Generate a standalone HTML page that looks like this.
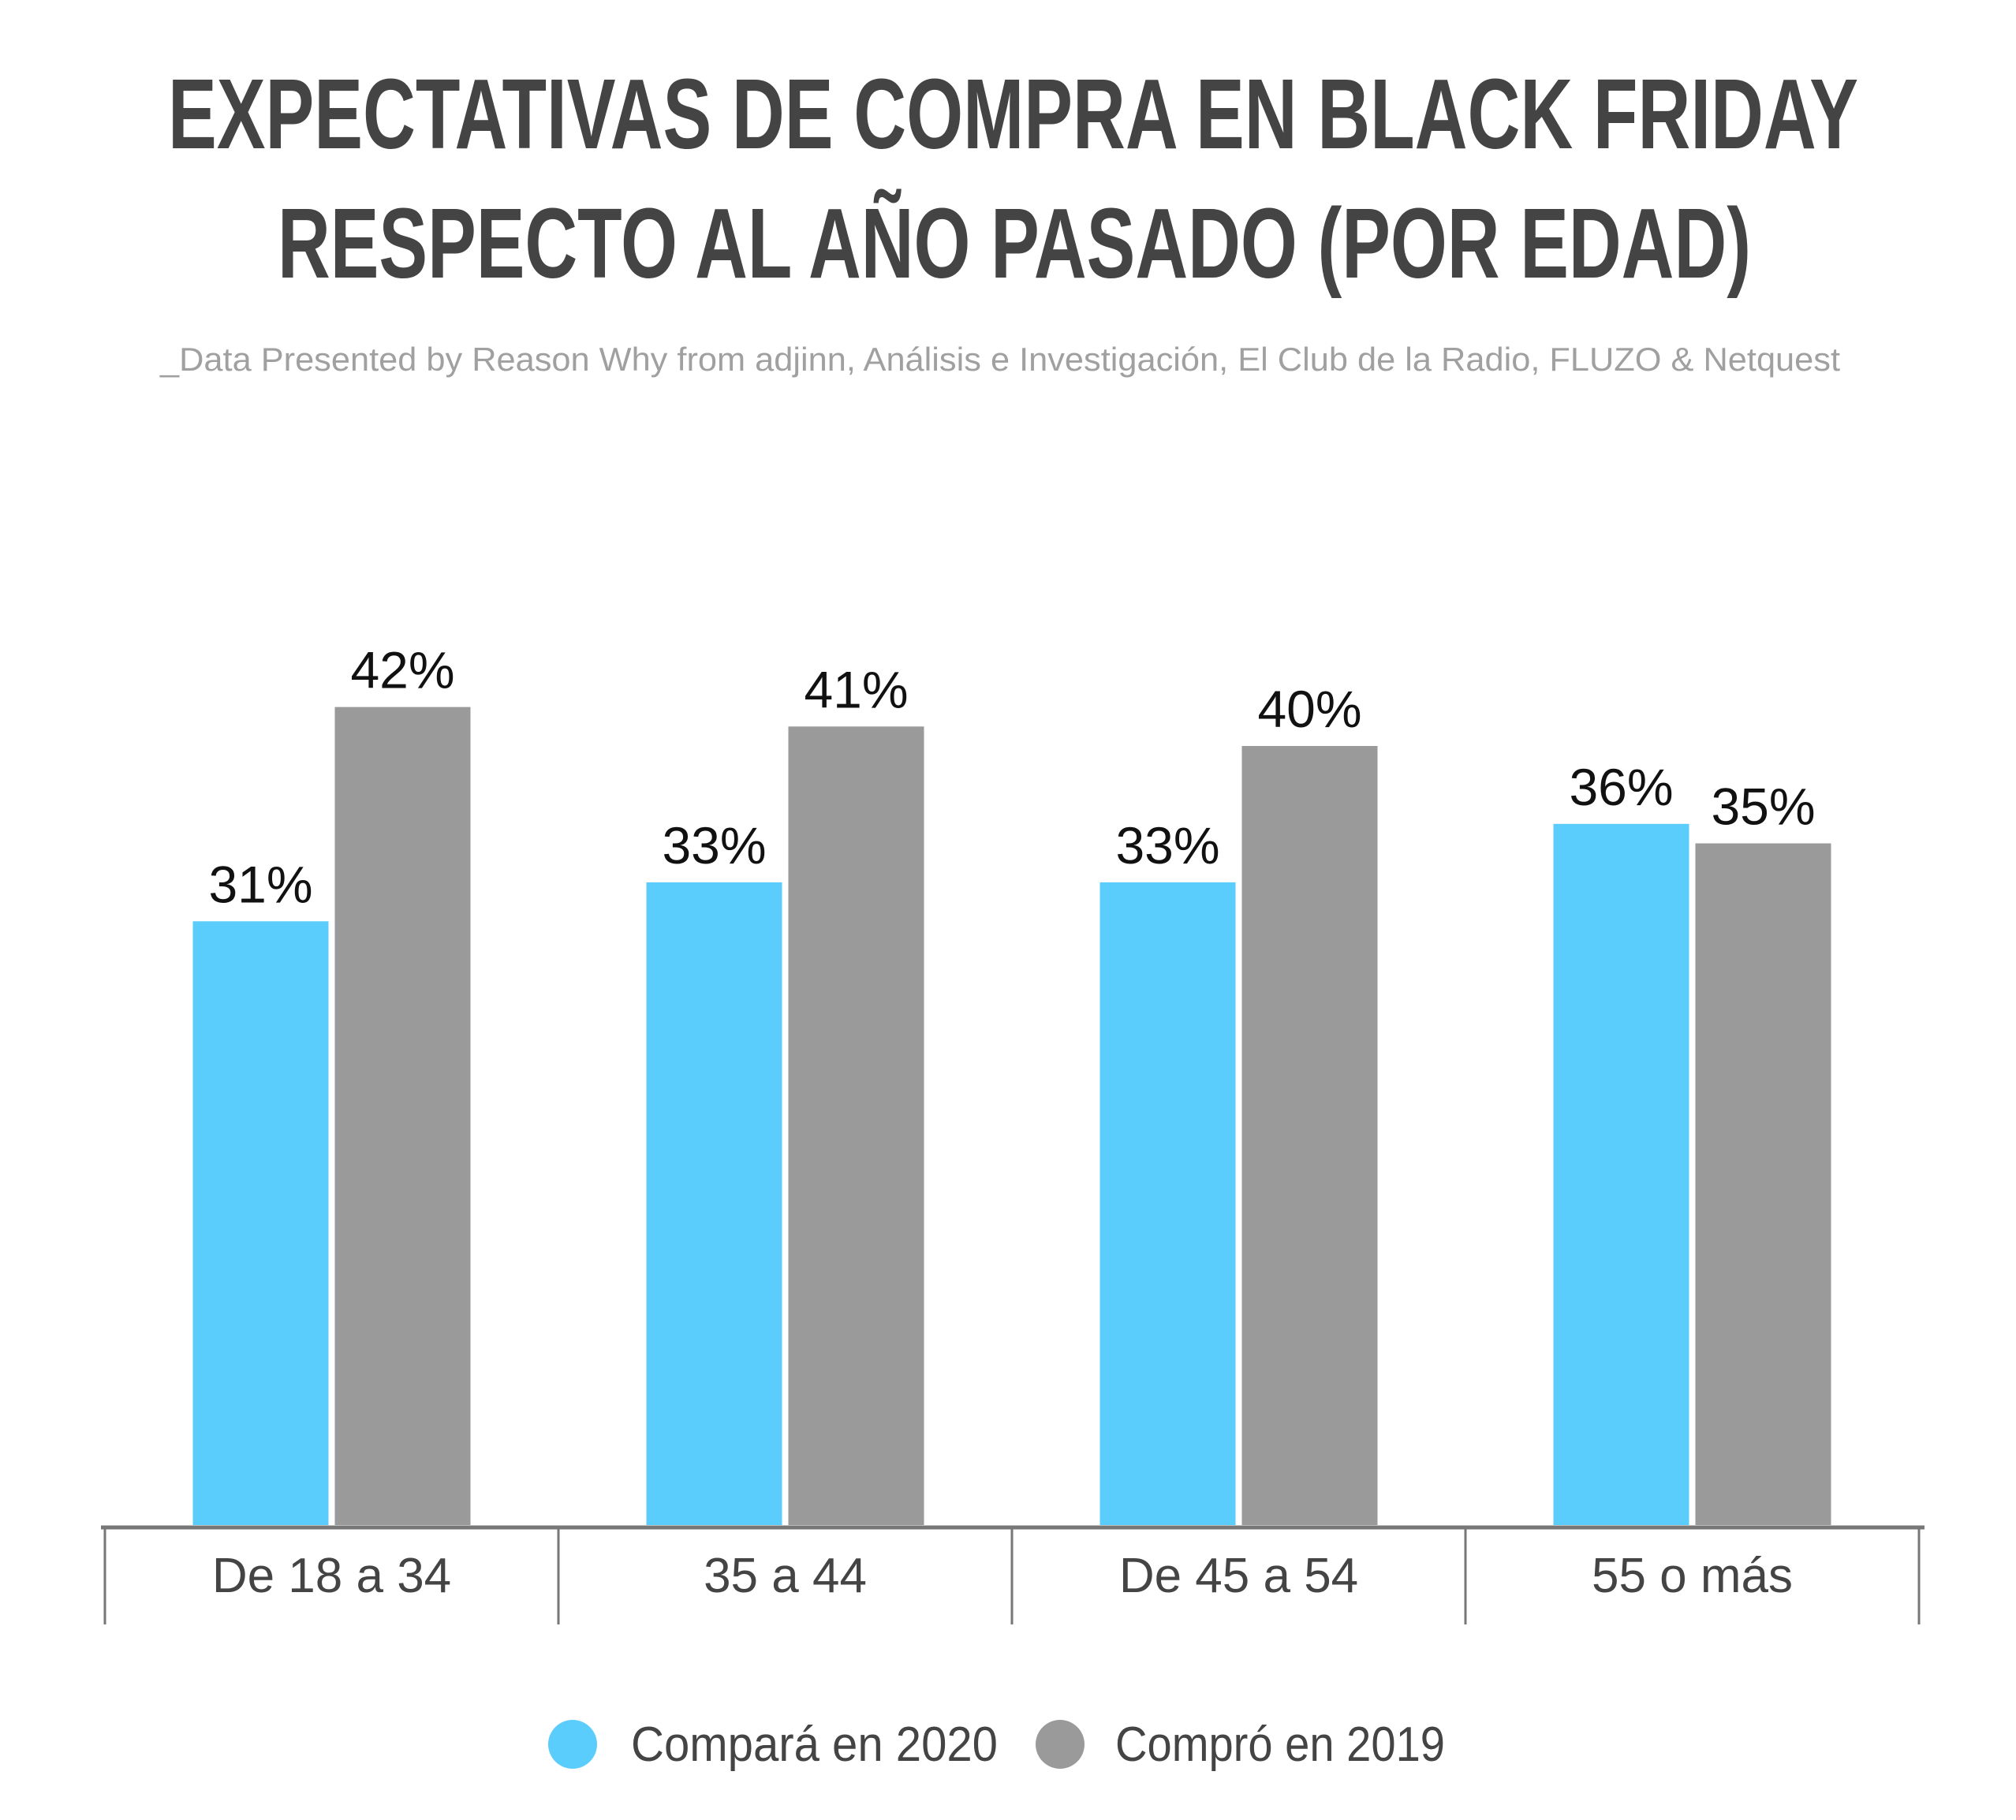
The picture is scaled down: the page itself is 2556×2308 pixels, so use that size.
<!DOCTYPE html>
<html><head><meta charset="utf-8"><style>
html,body{margin:0;padding:0;background:#fff}
svg{display:block}
</style></head><body>
<svg width="2556" height="2308" viewBox="0 0 2556 2308" xmlns="http://www.w3.org/2000/svg">
<rect width="2556" height="2308" fill="#fff"/>
<text x="213" y="188" textLength="2143" lengthAdjust="spacingAndGlyphs" font-family="Liberation Sans Narrow, Liberation Sans, sans-serif" font-weight="bold" font-size="126" fill="#444">EXPECTATIVAS DE COMPRA EN BLACK FRIDAY</text>
<text x="352" y="352" textLength="1868" lengthAdjust="spacingAndGlyphs" font-family="Liberation Sans Narrow, Liberation Sans, sans-serif" font-weight="bold" font-size="126" fill="#444">RESPECTO AL AÑO PASADO (POR EDAD)</text>
<text x="203" y="470" textLength="2130" lengthAdjust="spacingAndGlyphs" font-family="Liberation Sans, sans-serif" font-size="42" fill="#a0a0a0">_Data Presented by Reason Why from adjinn, Análisis e Investigación, El Club de la Radio, FLUZO &amp; Netquest</text>
<g id="plot"></g>
<g>
<circle cx="726" cy="2212" r="31" fill="#5bcdfc"/>
<text x="800" y="2233" font-family="Liberation Sans, sans-serif" font-size="62" fill="#444" textLength="465" lengthAdjust="spacingAndGlyphs">Compará en 2020</text>
<circle cx="1344" cy="2212" r="31" fill="#9a9a9a"/>
<text x="1414" y="2233" font-family="Liberation Sans, sans-serif" font-size="62" fill="#444" textLength="418" lengthAdjust="spacingAndGlyphs">Compró en 2019</text>
</g>
</svg>
<script>
const categories = ["De 18 a 34", "35 a 44", "De 45 a 54", "55 o más"];
const series2020 = [31, 33, 33, 36];
const series2019 = [42, 41, 40, 35];
const valueLabels2020 = ["31%", "33%", "33%", "36%"];
const valueLabels2019 = ["42%", "41%", "40%", "35%"];

const NS = "http://www.w3.org/2000/svg";
const plot = document.getElementById("plot");
const baseY = 1934, pxPer = 24.7;
const bandX0 = 133, bandW = 575;
const barW = 172, gap = 8;
function yScale(v){ return baseY - v * pxPer; }
function bandStart(i){ return bandX0 + i * bandW; }
function mk(tag, attrs){ const e = document.createElementNS(NS, tag); for (const k in attrs) e.setAttribute(k, attrs[k]); plot.appendChild(e); return e; }

categories.forEach((c, i) => {
  const center = bandStart(i) + bandW / 2;
  const xb = center - gap / 2 - barW;
  const xg = center + gap / 2;
  const b = mk("rect", {x: xb, y: yScale(series2020[i]), width: barW, height: baseY - yScale(series2020[i]), fill: "#5bcdfc"});
  
  
  const g = mk("rect", {x: xg, y: yScale(series2019[i]), width: barW, height: baseY - yScale(series2019[i]), fill: "#9a9a9a"});
  
  
  const t1 = mk("text", {x: xb + barW / 2, y: yScale(series2020[i]) - 24, "text-anchor": "middle", "font-family": "Liberation Sans, sans-serif", "font-size": "66", fill: "#111"});
  t1.textContent = valueLabels2020[i];
  
  
  const t2 = mk("text", {x: xg + barW / 2, y: yScale(series2019[i]) - 24, "text-anchor": "middle", "font-family": "Liberation Sans, sans-serif", "font-size": "66", fill: "#111"});
  t2.textContent = valueLabels2019[i];
  
  
  const cl = mk("text", {x: center, y: 2019, "text-anchor": "middle", "font-family": "Liberation Sans, sans-serif", "font-size": "62", fill: "#444"});
  cl.textContent = c;
  
  
});
for (let i = 0; i <= categories.length; i++) {
  const tk = mk("line", {x1: bandStart(i), x2: bandStart(i), y1: 1936, y2: 2060, stroke: "#777", "stroke-width": 3});
  
  
}
const ax = mk("line", {x1: 128, x2: 2440, y1: 1937, y2: 1937, stroke: "#777", "stroke-width": 5});


</script>
</body></html>
